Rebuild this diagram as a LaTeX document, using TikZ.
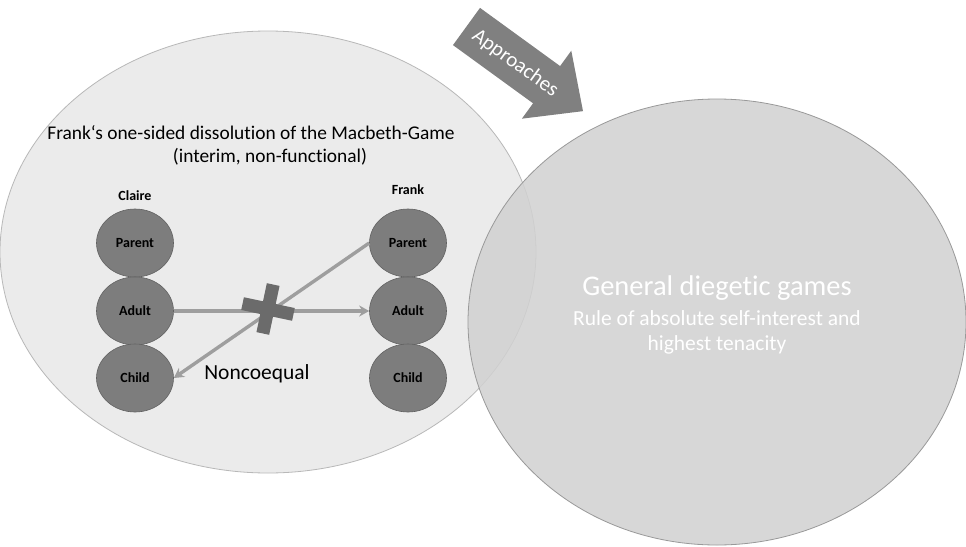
\documentclass[tikz,border=0pt]{standalone}
\usepackage{fontspec}
\setmainfont{Carlito}[Ligatures=NoCommon]
\begin{document}
\begin{tikzpicture}[x=1pt,y=-1pt,
  bubble/.style={ellipse, draw=black!62, line width=0.6pt, fill=black!51, minimum width=77pt, minimum height=68pt, inner sep=0pt, font=\fontsize{14}{16}\selectfont\bfseries},
  flow/.style={draw=black!38, line width=3.4pt, -{Stealth[length=10pt,width=11pt]}},
  colhead/.style={font=\fontsize{14}{16}\selectfont\bfseries},
  every node/.style={inner sep=0pt}]
\usetikzlibrary{shapes.geometric,arrows.meta}
\useasboundingbox (0,0) rectangle (966,546);
\fill[white] (0,0) rectangle (966,546);
% left ellipse
\draw[fill=black!8, draw=black!28, line width=0.8pt] (268,252) ellipse [x radius=268, y radius=221];
% right circle
\draw[fill=black!18, fill opacity=0.85, draw=black!40, line width=0.8pt] (717,322) ellipse [x radius=249, y radius=223];
% arrow Approaches
\begin{scope}[shift={(466.5,26.5)}, rotate=-36]
  \fill[black!50] (0,-23) -- (99,-23) -- (99,-42) -- (144,0) -- (99,42) -- (99,23) -- (0,23) -- cycle;
  \node[text=white, font=\fontsize{21}{24}\selectfont, rotate=-36] (appr) at (61,1) {Approaches};
\end{scope}
% title
\node[font=\fontsize{19.4}{23}\selectfont] (t1) at (251,133) {Frank‘s one-sided dissolution of the Macbeth-Game};
\node[font=\fontsize{19.4}{23}\selectfont] (t2) at (270,157) {(interim, non-functional)};
% columns
\node[colhead] (claire) at (135,196) {Claire};
\node[colhead] (frank) at (408,190) {Frank};
\node[bubble] (cp) at (135,243) {Parent};
\node[bubble] (ca) at (135,311) {Adult};
\node[bubble] (cc) at (135,378) {Child};
\node[bubble] (fp) at (408,243) {Parent};
\node[bubble] (fa) at (408,311) {Adult};
\node[bubble] (fc) at (408,378) {Child};
% connectors
\draw[flow] (ca.east) -- (fa.west);
\draw[flow] (fp.west) -- (cc.east);
% cross
\begin{scope}[shift={(268,309)}, rotate=-12]
  \fill[black!58] (-26,-6.5) rectangle (26,6.5);
  \fill[black!58] (-6.5,-25) rectangle (6.5,25);
\end{scope}
\node[font=\fontsize{21.5}{25}\selectfont] (nc) at (257,374) {Noncoequal};
% right text
\node[text=white, font=\fontsize{28.5}{32}\selectfont] (g1) at (717,288) {General diegetic games};
\node[text=white, font=\fontsize{21.5}{25}\selectfont] (g2) at (717,318) {Rule of absolute self-interest and};
\node[text=white, font=\fontsize{21.5}{25}\selectfont] (g3) at (717,345) {highest tenacity};
\end{tikzpicture}
\end{document}
